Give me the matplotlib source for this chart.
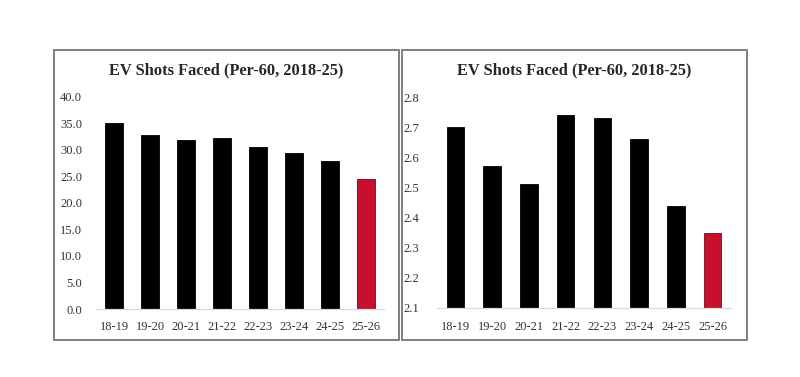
import matplotlib.pyplot as plt
from matplotlib.patches import Rectangle

seasons = ["18-19", "19-20", "20-21", "21-22", "22-23", "23-24", "24-25", "25-26"]
shots_faced = [35.0, 32.8, 31.8, 32.2, 30.5, 29.4, 27.9, 24.5]
right_values = [2.70, 2.57, 2.51, 2.74, 2.73, 2.66, 2.44, 2.35]
title = "EV Shots Faced (Per-60, 2018-25)"

plt.rcParams['font.family'] = ['Liberation Serif', 'DejaVu Serif']

fig = plt.figure(figsize=(8, 3.77), dpi=100)
fig.patch.set_facecolor("white")

colors = ["black"] * (len(seasons) - 1) + ["#C8102E"]
edges = ["black"] * (len(seasons) - 1) + ["#6a0b18"]

# panel frames (pixel coords -> figure fraction)
for x0, x1 in [(54, 399), (402, 747)]:
    fig.patches.append(Rectangle((x0 / 800, 1 - 340 / 377), (x1 - x0) / 800, 290 / 377,
                                 transform=fig.transFigure, fill=False,
                                 edgecolor="#7f7f7f", linewidth=1.4))


def panel(rect, values, ylim, step, fmt, width, title_x, ypad):
    ax = fig.add_axes(rect)
    x = range(len(seasons))
    ax.bar(x, [v - ylim[0] for v in values], bottom=ylim[0], width=width,
           color=colors, edgecolor=edges, linewidth=0.6)
    ax.set_xlim(-0.5, len(seasons) - 0.5)
    ax.set_ylim(ylim)
    ticks = []
    t = ylim[0]
    while t <= ylim[1] + 1e-9:
        ticks.append(round(t, 3))
        t += step
    ax.set_yticks(ticks)
    ax.set_yticklabels([fmt.format(v) for v in ticks])
    ax.set_xticks(list(x))
    ax.set_xticklabels(seasons)
    for s in ["top", "right", "left"]:
        ax.spines[s].set_visible(False)
    ax.spines["bottom"].set_color("#d9d9d9")
    ax.spines["bottom"].set_linewidth(0.9)
    ax.tick_params(axis="both", length=0, labelsize=9, colors="#333333")
    ax.tick_params(axis="x", pad=9)
    ax.tick_params(axis="y", pad=ypad)
    fig.text(title_x, 1 - 70 / 377, title, ha="center", va="center",
             fontsize=11.8, fontweight="bold", color="#262626")
    return ax


panel([96 / 800, 1 - 309 / 377, 288 / 800, 212 / 377], shots_faced,
      (0, 40), 5, "{:.1f}", 0.52, 226 / 800, 10)
panel([437 / 800, 1 - 308 / 377, 294 / 800, 211 / 377], right_values,
      (2.1, 2.8), 0.1, "{:.1f}", 0.48, 574 / 800, 13)

plt.savefig("out.png", dpi=100)
